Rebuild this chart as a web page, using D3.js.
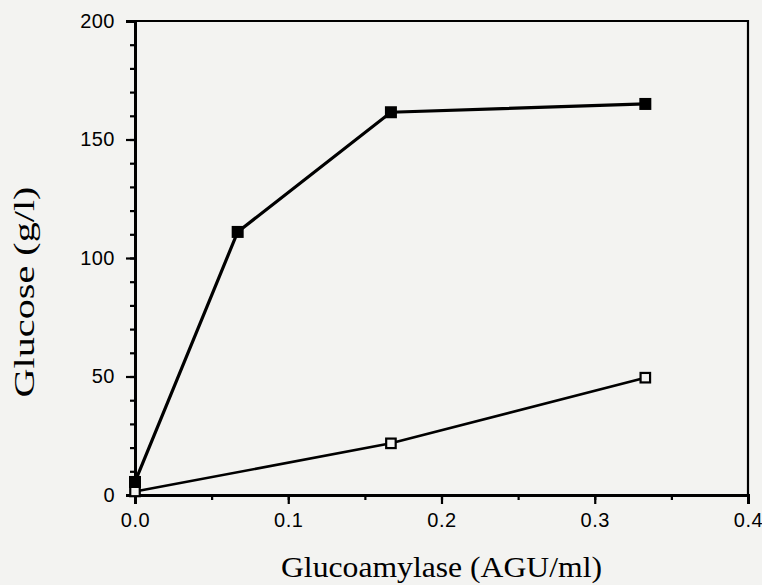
<!DOCTYPE html>
<html>
<head>
<meta charset="utf-8">
<script src="https://cdn.jsdelivr.net/npm/d3@7/dist/d3.min.js"></script>
<style>
  html, body { margin: 0; padding: 0; background: #f3f3f1; }
  svg { display: block; }
</style>
</head>
<body>
<svg id="chart" width="762" height="585"></svg>
<script>
// Glucose released versus glucoamylase dose, two series
const doses = [0, 0.067, 0.167, 0.333];
const glucoseFilled = [5.5, 111, 161.5, 165];
const glucoseOpen = [1.5, null, 21.8, 49.5];

const xTicks = [0, 0.1, 0.2, 0.3, 0.4];
const xTickLabels = ["0.0", "0.1", "0.2", "0.3", "0.4"];
const yTicks = [0, 50, 100, 150, 200];
const yTickLabels = ["0", "50", "100", "150", "200"];
const xTitle = "Glucoamylase (AGU/ml)";
const yTitle = "Glucose (g/l)";

const W = 762, H = 585;
const margin = { left: 135, right: 14, top: 21, bottom: 90 };
const plotW = W - margin.left - margin.right;
const plotH = H - margin.top - margin.bottom;

const svg = d3.select("#chart");
const g = svg.append("g").attr("transform", `translate(${margin.left},${margin.top})`);

const x = d3.scaleLinear().domain([0, 0.4]).range([0, plotW]);
const y = d3.scaleLinear().domain([0, 200]).range([plotH, 0]);

const tickFont = "'Liberation Sans', Arial, Helvetica, sans-serif";
const titleFont = "'Liberation Serif', 'Times New Roman', serif";

// frame: top and right edges
g.append("path")
  .attr("d", `M0,0H${plotW}V${plotH}`)
  .attr("fill", "none").attr("stroke", "#000").attr("stroke-width", 2.2);

// minor ticks
const xMinor = d3.axisBottom(x).tickValues(d3.range(0, 0.401, 0.05)).tickSize(5).tickFormat("");
const yMinor = d3.axisLeft(y).tickValues(d3.range(0, 201, 10)).tickSize(5).tickFormat("");
g.append("g").attr("transform", `translate(0,${plotH})`).call(xMinor);
g.append("g").call(yMinor);

// major ticks with labels
const xAxis = d3.axisBottom(x).tickValues(xTicks).tickSize(9).tickPadding(8)
  .tickFormat((d, i) => xTickLabels[i]);
const yAxis = d3.axisLeft(y).tickValues(yTicks).tickSize(9).tickPadding(11)
  .tickFormat((d, i) => yTickLabels[i]);

const gx = g.append("g").attr("transform", `translate(0,${plotH})`).call(xAxis);
const gy = g.append("g").call(yAxis);

g.selectAll(".domain").attr("stroke", "#000").attr("stroke-width", 3);
g.selectAll(".tick line").attr("stroke", "#000").attr("stroke-width", 2.2);
g.selectAll(".tick text")
  .attr("fill", "#000")
  .style("font-family", tickFont)
  .style("font-size", "20px");
gx.selectAll(".tick text").attr("dy", "0.75em").style("letter-spacing", "0.5px");
gy.selectAll(".tick text").style("letter-spacing", "0.5px");

// axis titles
svg.append("text")
  .attr("x", margin.left + plotW / 2).attr("y", 577)
  .attr("text-anchor", "middle")
  .attr("textLength", 321).attr("lengthAdjust", "spacingAndGlyphs")
  .style("font-family", titleFont).style("font-size", "29px").attr("fill", "#000")
  .text(xTitle);

svg.append("text")
  .attr("transform", `translate(34,${292}) rotate(-90)`)
  .attr("text-anchor", "middle")
  .attr("textLength", 211).attr("lengthAdjust", "spacingAndGlyphs")
  .style("font-family", titleFont).style("font-size", "30px").attr("fill", "#000")
  .text(yTitle);

// series: open squares
const openPts = doses.map((d, i) => [d, glucoseOpen[i]]).filter(p => p[1] != null);
const line = d3.line().x(p => x(p[0])).y(p => y(p[1]));
g.append("path").datum(openPts).attr("d", line)
  .attr("fill", "none").attr("stroke", "#000").attr("stroke-width", 2.6);
const os = 9.5;
g.selectAll(".open").data(openPts).enter().append("rect")
  .attr("x", p => x(p[0]) - os / 2).attr("y", p => y(p[1]) - os / 2)
  .attr("width", os).attr("height", os)
  .attr("fill", "#f3f3f1").attr("stroke", "#000").attr("stroke-width", 2.2);

// series: filled squares
const filledPts = doses.map((d, i) => [d, glucoseFilled[i]]);
g.append("path").datum(filledPts).attr("d", line)
  .attr("fill", "none").attr("stroke", "#000").attr("stroke-width", 3.2);
const fs = 12;
g.selectAll(".filled").data(filledPts).enter().append("rect")
  .attr("x", p => x(p[0]) - fs / 2).attr("y", p => y(p[1]) - fs / 2)
  .attr("width", fs).attr("height", fs)
  .attr("fill", "#000");
</script>
</body>
</html>
